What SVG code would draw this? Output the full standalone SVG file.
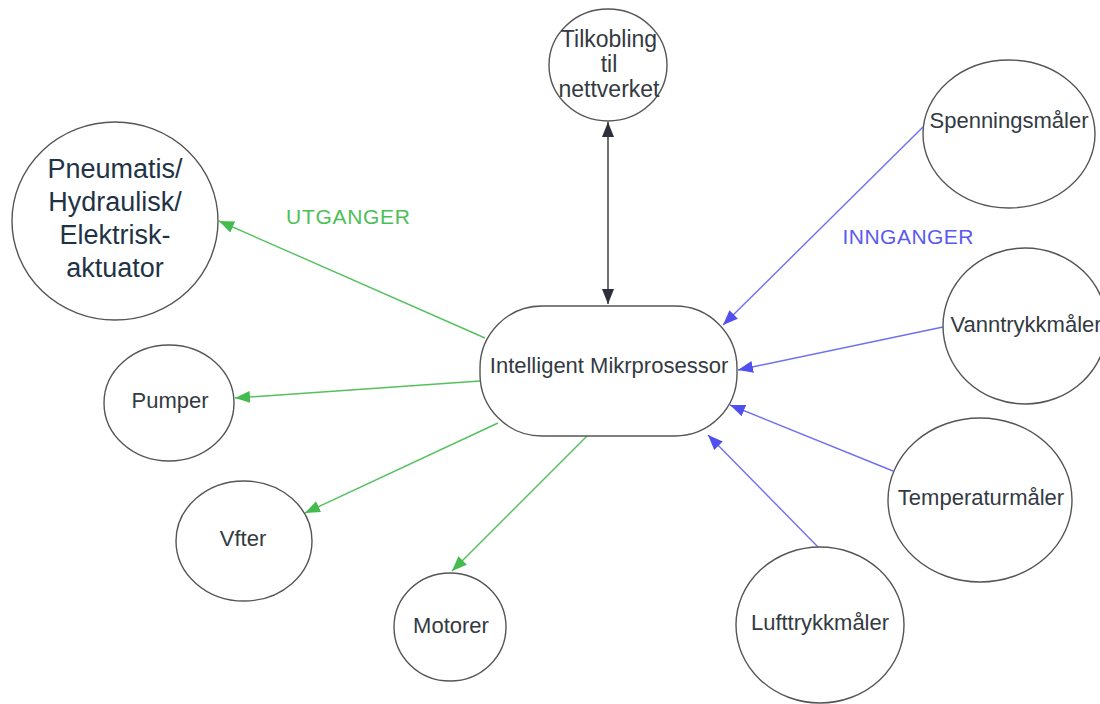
<svg xmlns="http://www.w3.org/2000/svg" width="1100" height="704" viewBox="0 0 1100 704">
<defs>
<marker id="ag" markerUnits="userSpaceOnUse" markerWidth="16" markerHeight="12" refX="15" refY="6" orient="auto"><path d="M0,0 L15,6 L0,12 z" fill="#44bb4e"/></marker>
<marker id="ab" markerUnits="userSpaceOnUse" markerWidth="16" markerHeight="12" refX="15" refY="6" orient="auto"><path d="M0,0 L15,6 L0,12 z" fill="#5050f0"/></marker>
<marker id="ak" markerUnits="userSpaceOnUse" markerWidth="16" markerHeight="12" refX="15" refY="6" orient="auto-start-reverse"><path d="M0,0 L15,6 L0,12 z" fill="#2b303a"/></marker>
</defs>
<style>
.n{fill:#fff;stroke:#555;stroke-width:1.4}
.t{font-family:"Liberation Sans",Arial,sans-serif;font-size:22px;fill:#333a42;text-anchor:middle}
.big{font-size:27px;fill:#1f3347}
.tk{font-size:23px}
.g{stroke:#55c05e;stroke-width:1.4;fill:none;marker-end:url(#ag)}
.b{stroke:#6f6ff2;stroke-width:1.4;fill:none;marker-end:url(#ab)}
.k{stroke:#333;stroke-width:1.4;fill:none;marker-end:url(#ak);marker-start:url(#ak)}
.lbl{font-family:"Liberation Sans",Arial,sans-serif;font-size:21px}
</style>
<rect width="1100" height="704" fill="#fff"/>
<g id="connectors">
<line class="k" x1="608" y1="304" x2="608" y2="122"/>
<line class="g" x1="485" y1="338" x2="219" y2="221"/>
<line class="g" x1="480" y1="381" x2="235" y2="398"/>
<line class="g" x1="498" y1="423" x2="305" y2="513"/>
<line class="g" x1="587" y1="436" x2="452" y2="571"/>
<line class="b" x1="923" y1="127" x2="723" y2="325"/>
<line class="b" x1="943" y1="327" x2="738" y2="370"/>
<line class="b" x1="893" y1="471" x2="730" y2="405"/>
<line class="b" x1="818" y1="547" x2="708" y2="435"/>
</g>
<g id="lbl-utganger"><text class="lbl" x="348" y="224" text-anchor="middle" fill="#4cc057" textLength="124">UTGANGER</text></g>
<g id="lbl-innganger"><text class="lbl" x="908" y="244" text-anchor="middle" fill="#5a5af2" textLength="131">INNGANGER</text></g>
<g id="mikroprosessor">
<rect class="n" x="480" y="306" width="257" height="130" rx="62" ry="62"/>
<text class="t" x="609" y="373">Intelligent Mikrprosessor</text>
</g>
<g id="tilkobling">
<ellipse class="n" cx="608" cy="65" rx="59" ry="56"/>
<text class="t tk" x="609" y="47">Tilkobling</text>
<text class="t tk" x="609" y="72">til</text>
<text class="t tk" x="609" y="97">nettverket</text>
</g>
<g id="aktuator">
<ellipse class="n" cx="115" cy="221" rx="103" ry="99"/>
<text class="t big" x="115" y="178">Pneumatis/</text>
<text class="t big" x="115" y="211">Hydraulisk/</text>
<text class="t big" x="115" y="244">Elektrisk-</text>
<text class="t big" x="115" y="277">aktuator</text>
</g>
<g id="pumper">
<ellipse class="n" cx="169" cy="403" rx="65" ry="58"/>
<text class="t" x="170" y="408">Pumper</text>
</g>
<g id="vfter">
<ellipse class="n" cx="244" cy="541" rx="68" ry="60"/>
<text class="t" x="243" y="546">Vfter</text>
</g>
<g id="motorer">
<ellipse class="n" cx="450" cy="627" rx="56" ry="54"/>
<text class="t" x="451" y="633">Motorer</text>
</g>
<g id="spenningsmaler">
<ellipse class="n" cx="1009" cy="134" rx="86" ry="74"/>
<text class="t" x="1009" y="128">Spenningsmåler</text>
</g>
<g id="vanntrykkmaler">
<ellipse class="n" cx="1025" cy="326" rx="82" ry="78"/>
<text class="t" x="1026" y="332">Vanntrykkmåler</text>
</g>
<g id="temperaturmaler">
<ellipse class="n" cx="980" cy="500" rx="92" ry="82"/>
<text class="t" x="981" y="505">Temperaturmåler</text>
</g>
<g id="lufttrykkmaler">
<ellipse class="n" cx="820" cy="625" rx="84" ry="78"/>
<text class="t" x="820" y="630">Lufttrykkmåler</text>
</g>
</svg>
